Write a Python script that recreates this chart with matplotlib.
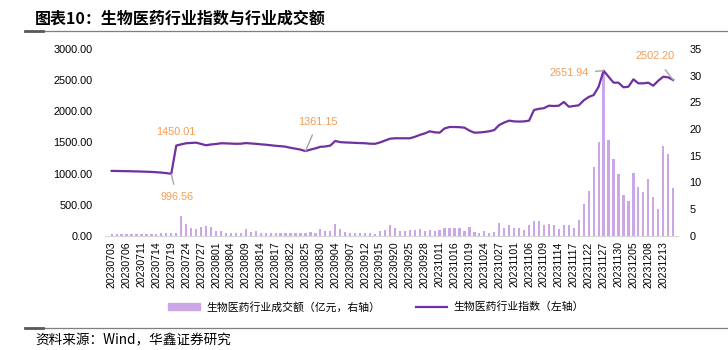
import matplotlib.pyplot as plt
from matplotlib.lines import Line2D
from matplotlib.patches import Patch

plt.rcParams['font.family'] = ['Noto Sans CJK SC', 'DejaVu Sans']

# 交易日
jul = ['03', '04', '05', '06', '07', '10', '11', '12', '13', '14', '17', '18', '19', '20', '21',
       '24', '25', '26', '27', '28', '31']
aug = ['01', '02', '03', '04', '07', '08', '09', '10', '11', '14', '15', '16', '17', '18', '21',
       '22', '23', '24', '25', '28', '29', '30', '31']
sep = ['01', '04', '05', '06', '07', '08', '11', '12', '13', '14', '15', '18', '19', '20', '21',
       '22', '25', '26', '27', '28']
oct_ = ['09', '10', '11', '12', '13', '16', '17', '18', '19', '20', '23', '24', '25', '26', '27',
        '30', '31']
nov = ['01', '02', '03', '06', '07', '08', '09', '10', '13', '14', '15', '16', '17', '20', '21',
       '22', '23', '24', '27', '28', '29', '30']
dec = ['01', '04', '05', '06', '07', '08', '11', '12', '13', '14', '15']
dates = (['202307' + d for d in jul] + ['202308' + d for d in aug] + ['202309' + d for d in sep]
         + ['202310' + d for d in oct_] + ['202311' + d for d in nov] + ['202312' + d for d in dec])

# 生物医药行业指数（左轴）
index_values = [
    1043, 1042, 1040, 1039, 1037, 1035, 1033, 1030, 1027, 1022, 1016, 1008, 996.56,
    1450.01, 1470, 1487, 1492, 1497, 1476, 1455, 1468, 1475, 1487, 1485, 1482, 1478, 1480,
    1490, 1484, 1478, 1470, 1464, 1455, 1446, 1440, 1432, 1414, 1400, 1385,
    1361.15, 1385, 1405, 1430, 1435, 1450, 1524, 1505, 1500, 1497, 1493, 1490, 1487, 1480,
    1478, 1500, 1530, 1560, 1567, 1567, 1567, 1567, 1590, 1620, 1645, 1679, 1663, 1657,
    1725, 1748, 1748, 1745, 1737, 1690, 1657, 1660, 1668, 1679, 1700, 1780, 1820, 1850,
    1838, 1835, 1838, 1850, 2021, 2040, 2050, 2090, 2085, 2090, 2150, 2074, 2085, 2096,
    2175, 2230, 2261, 2395, 2651.94, 2555, 2460, 2459, 2385, 2395, 2513, 2449, 2449, 2459,
    2411, 2491, 2555, 2545, 2502.20]

# 生物医药行业成交额（亿元，右轴）
turnover = [
    0.4, 0.4, 0.35, 0.4, 0.3, 0.35, 0.4, 0.35, 0.4, 0.4, 0.45, 0.45, 0.5,
    0.55, 3.7, 2.3, 1.55, 1.2, 1.7, 1.8, 1.7, 0.95, 0.95, 0.55, 0.45, 0.55, 0.45,
    1.25, 0.7, 0.9, 0.55, 0.55, 0.6, 0.6, 0.45, 0.6, 0.45, 0.6, 0.6,
    0.6, 0.75, 0.6, 1.25, 0.9, 0.95, 2.2, 1.2, 0.65, 0.45, 0.55, 0.45, 0.45, 0.45,
    0.4, 0.9, 1.05, 1.95, 1.4, 1.0, 1.0, 1.1, 1.1, 1.25, 0.9, 1.05, 0.95, 1.05,
    1.4, 1.4, 1.55, 1.4, 0.9, 1.75, 0.7, 0.6, 0.9, 0.6, 0.8, 2.45, 1.45, 2.05,
    1.4, 1.4, 1.05, 2.05, 2.75, 2.75, 2.1, 2.3, 2.1, 1.2, 1.95, 1.95, 1.5, 2.95,
    5.95, 8.5, 12.95, 17.65, 31.0, 18.0, 14.4, 11.6, 7.6, 6.5, 11.7, 9.1, 8.3, 10.6,
    7.3, 5.0, 16.8, 15.3, 9.0]

left_ticks = [0, 500, 1000, 1500, 2000, 2500, 3000]
right_ticks = [0, 5, 10, 15, 20, 25, 30, 35]

line_color = '#7030A0'
bar_color = '#CBA7E8'
note_color = '#F59D55'
x = list(range(len(dates)))

fig = plt.figure(figsize=(7.28, 3.5), dpi=100)
ax = fig.add_axes([0.1445, 0.326, 0.787, 0.534])
ax2 = ax.twinx()

ax2.bar(x, turnover, width=0.45, color=bar_color)
ax.plot(x, index_values, color=line_color, linewidth=1.6)
ax.set_zorder(ax2.get_zorder() + 1)
ax.patch.set_visible(False)

ax.set_xlim(-1.3, 114)
ax.set_ylim(0, 3000)
ax2.set_ylim(0, 35)
ax.set_yticks(left_ticks)
ax.set_yticklabels(['%.2f' % v for v in left_ticks], fontsize=7.8, family='Liberation Sans')
ax2.set_yticks(right_ticks)
ax2.set_yticklabels([str(v) for v in right_ticks], fontsize=7.8, family='Liberation Sans')
ax.set_xticks(x[::3])
ax.set_xticklabels(dates[::3], rotation=90, fontsize=7.6, family='Liberation Sans')
ax.tick_params(axis='x', length=0, pad=4)
ax.tick_params(axis='y', length=0, pad=9)
ax2.tick_params(length=0, pad=8)

for a in (ax, ax2):
    for s in ('top', 'left', 'right'):
        a.spines[s].set_visible(False)
    a.spines['bottom'].set_color('#D9D9D9')

# 数据标注
gray = '#A6A6A6'
notes = [
    (13, '1450.01', (0, 10), None),
    (12, '996.56', (4, -17), 4),
    (39, '1361.15', (9, 21), 4),
    (99, '2651.94', (-25, -2), 3),
    (113, '2502.20', (-13, 17), 5),
]
for i, txt, off, shrink in notes:
    props = None
    if shrink is not None:
        props = dict(arrowstyle='-', color=gray, lw=1.0, shrinkA=shrink, shrinkB=0)
    ax.annotate(txt, (i, index_values[i]), xytext=off, textcoords='offset points',
                ha='center', va='center', fontsize=7.8, color=note_color,
                family='Liberation Sans', arrowprops=props)

# 图例
handles = [Patch(color=bar_color), Line2D([], [], color=line_color, linewidth=1.6)]
fig.legend(handles, ['生物医药行业成交额（亿元，右轴）', '生物医药行业指数（左轴）'],
           loc='center', bbox_to_anchor=(0.517, 0.123), ncol=2, frameon=False,
           fontsize=7.8, handlelength=2.9, handleheight=0.5, columnspacing=3.3,
           handletextpad=0.6)

# 标题与来源
fig.text(0.048, 0.947, '图表10：生物医药行业指数与行业成交额', fontsize=11.5,
         fontweight='bold', va='center', ha='left')
fig.add_artist(Line2D([0.034, 1.0], [0.911, 0.911], color='#7F7F7F', linewidth=0.9))
fig.add_artist(Line2D([0.034, 0.059], [0.911, 0.911], color='#595959', linewidth=2.0))
fig.add_artist(Line2D([0.034, 1.0], [0.062, 0.062], color='#7F7F7F', linewidth=0.9))
fig.add_artist(Line2D([0.034, 0.059], [0.062, 0.062], color='#595959', linewidth=2.0))
fig.text(0.048, 0.028, '资料来源：Wind，华鑫证券研究', fontsize=9.8, va='center', ha='left')

fig.savefig('out.png', dpi=100)
